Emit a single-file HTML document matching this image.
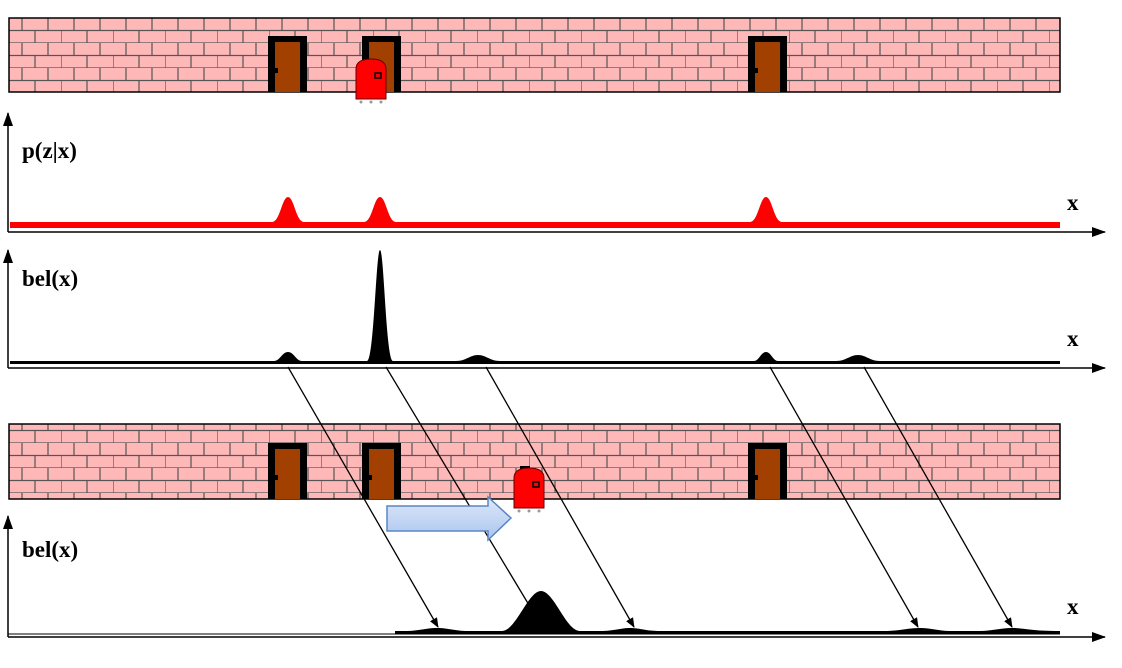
<!DOCTYPE html>
<html><head><style>body{margin:0;background:#fff}svg{display:block}</style></head><body>
<svg width="1122" height="668" viewBox="0 0 1122 668" xmlns="http://www.w3.org/2000/svg">
<defs>
<pattern id="brick" x="9" y="18" width="52" height="25" patternUnits="userSpaceOnUse">
<rect width="52" height="25" fill="#ffb8b8"/>
<path d="M0 12.5H52M0 25H52M13 0V12.5M39 0V12.5M0 12.5V25M26 12.5V25" stroke="#555" stroke-width="1.2" fill="none"/>
</pattern>
<marker id="ah" markerWidth="10" markerHeight="10" refX="9" refY="5" orient="auto" markerUnits="userSpaceOnUse"><path d="M0 1L10 5L0 9Z" fill="#000"/></marker>
<marker id="ax" markerWidth="14" markerHeight="10" refX="13" refY="5" orient="auto" markerUnits="userSpaceOnUse"><path d="M0 0L14 5L0 10Z" fill="#000"/></marker>
<linearGradient id="bg" x1="0" y1="0" x2="0" y2="1"><stop offset="0" stop-color="#dfe9fa"/><stop offset="1" stop-color="#a9c4ee"/></linearGradient>
<g id="door"><rect x="0" y="0" width="39" height="56" fill="#000"/><rect x="7" y="6" width="25" height="50" fill="#a14000"/><rect x="5" y="32" width="5" height="5" fill="#000"/></g>
<g id="robot"><path d="M0 10Q0 0 15 0Q30 0 30 10V40H0Z" fill="#f00" stroke="#600" stroke-width="1"/><rect x="19" y="14" width="6" height="5" fill="#f00" stroke="#000" stroke-width="1.5"/><g fill="#999"><circle cx="5" cy="43" r="1.5"/><circle cx="15" cy="43" r="1.5"/><circle cx="25" cy="43" r="1.5"/></g></g>
</defs>
<!-- wall 1 -->
<rect x="9" y="18" width="1051" height="74" fill="url(#brick)" stroke="#000" stroke-width="1.5"/>
<use href="#door" x="268" y="36"/><use href="#door" x="362" y="36"/><use href="#door" x="748" y="36"/>
<use href="#robot" x="356" y="59"/>
<!-- plot 1 -->
<line x1="8" y1="232" x2="8" y2="113" stroke="#000" stroke-width="1.5" marker-end="url(#ax)"/>
<line x1="8" y1="232" x2="1105" y2="232" stroke="#000" stroke-width="1.5" marker-end="url(#ax)"/>
<path d="M10 228V222H272C280 222 282 197 288 197C294 197 296 222 304 222H364C372 222 374 197 380 197C386 197 388 222 396 222H750C758 222 760 197 766 197C772 197 774 222 782 222H1060V228Z" fill="#f00"/>
<text x="22" y="158" font-family="Liberation Serif" font-weight="bold" font-size="23">p(z|x)</text>
<text x="1067" y="210" font-family="Liberation Serif" font-weight="bold" font-size="23">x</text>
<!-- plot 2 -->
<line x1="8" y1="368" x2="8" y2="250" stroke="#000" stroke-width="1.5" marker-end="url(#ax)"/>
<line x1="8" y1="368" x2="1105" y2="368" stroke="#000" stroke-width="1.5" marker-end="url(#ax)"/>
<path d="M10 364V361H274C280 361 282 352 288 352C294 352 296 361 302 361H367C374 361 376 250 380 250C384 250 386 361 393 361H456C466 361 470 355 478 355C486 355 490 361 500 361H754C759 361 761 352 766 352C771 352 773 361 778 361H836C846 361 850 355 858 355C866 355 870 361 880 361H1060V364Z" fill="#000"/>
<text x="22" y="286" font-family="Liberation Serif" font-weight="bold" font-size="23">bel(x)</text>
<text x="1067" y="346" font-family="Liberation Serif" font-weight="bold" font-size="23">x</text>
<!-- wall 2 -->
<rect x="9" y="424" width="1051" height="75" fill="url(#brick)" stroke="#000" stroke-width="1.5"/>
<use href="#door" x="268" y="443"/><use href="#door" x="362" y="443"/><use href="#door" x="748" y="443"/>
<!-- connecting arrows -->
<g stroke="#000" stroke-width="1.3">
<line x1="288" y1="367" x2="438" y2="627" marker-end="url(#ah)"/>
<line x1="386" y1="367" x2="532" y2="610"/>
<line x1="486" y1="367" x2="634" y2="627" marker-end="url(#ah)"/>
<line x1="770" y1="367" x2="918" y2="627" marker-end="url(#ah)"/>
<line x1="864" y1="367" x2="1012" y2="627" marker-end="url(#ah)"/>
</g>
<rect x="520" y="466" width="10" height="3" fill="#000"/>
<use href="#robot" x="514" y="468"/>
<path d="M387 506H488V497L511 518L488 540V531H387Z" fill="url(#bg)" stroke="#5b86c4" stroke-width="1.5"/>
<!-- plot 3 -->
<line x1="8" y1="637" x2="8" y2="516" stroke="#000" stroke-width="1.5" marker-end="url(#ax)"/>
<line x1="8" y1="637" x2="1105" y2="637" stroke="#000" stroke-width="1.5" marker-end="url(#ax)"/>
<path d="M395 634V631H405C420 631 425 628 437 628C449 628 454 631 468 631H502C516 631 528 591 541 591C554 591 566 631 580 631H600C615 631 620 628 630 628C640 628 645 631 660 631H885C900 631 908 628 920 628C932 628 938 631 950 631H980C992 631 1000 628 1012 628C1024 628 1030 631 1060 631V634Z" fill="#000"/>
<line x1="8" y1="634" x2="1060" y2="634" stroke="#000" stroke-width="1"/>
<text x="22" y="557" font-family="Liberation Serif" font-weight="bold" font-size="23">bel(x)</text>
<text x="1067" y="614" font-family="Liberation Serif" font-weight="bold" font-size="23">x</text>
</svg>
</body></html>
